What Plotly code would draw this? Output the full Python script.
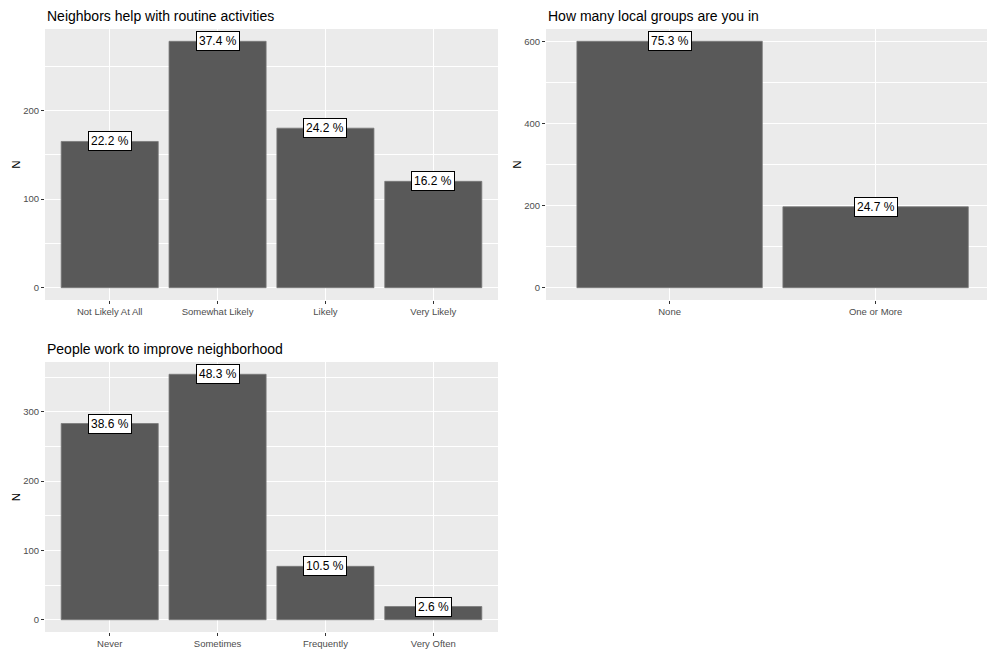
import plotly.graph_objects as go

W, H = 987, 649

# ---- data ----
cats1 = ["Not Likely At All", "Somewhat Likely", "Likely", "Very Likely"]
vals1 = [165, 278, 180, 120]
pct1 = ["22.2", "37.4", "24.2", "16.2"]
title1 = "Neighbors help with routine activities"

cats2 = ["None", "One or More"]
vals2 = [600, 197]
pct2 = ["75.3", "24.7"]
title2 = "How many local groups are you in"

cats3 = ["Never", "Sometimes", "Frequently", "Very Often"]
vals3 = [283, 354, 77, 19]
pct3 = ["38.6", "48.3", "10.5", "2.6"]
title3 = "People work to improve neighborhood"

FONT = "Liberation Sans, Arial, sans-serif"
BAR = "#595959"
BG = "#EBEBEB"

def px_x(a, b):
    return [a / W, b / W]

def px_y(top, bottom):
    return [1 - bottom / H, 1 - top / H]

panels = [
    dict(cats=cats1, vals=vals1, pct=pct1, title=title1, xd=px_x(45, 498), yd=px_y(29, 300),
         xr=[-0.6, 3.6], yr=[-13.9, 291.9], dt=100, mdt=50),
    dict(cats=cats2, vals=vals2, pct=pct2, title=title2, xd=px_x(546, 987), yd=px_y(29, 300),
         xr=[-0.6, -0.6 + 441 / 206], yr=[-30, 630], dt=200, mdt=100),
    dict(cats=cats3, vals=vals3, pct=pct3, title=title3, xd=px_x(45, 498), yd=px_y(362, 632),
         xr=[-0.6, 3.6], yr=[-17.7, 371.7], dt=100, mdt=50),
]

fig = go.Figure()
annotations = []
layout = {}
for i, p in enumerate(panels, start=1):
    xa = "x" if i == 1 else f"x{i}"
    ya = "y" if i == 1 else f"y{i}"
    fig.add_trace(go.Bar(
        x=p["cats"], y=p["vals"], xaxis=xa, yaxis=ya, width=0.9,
        marker=dict(color=BAR, line=dict(color="#7a7a7a", width=0.8)),
        showlegend=False, hoverinfo="skip",
    ))
    layout[f"xaxis{'' if i == 1 else i}"] = dict(
        domain=p["xd"], anchor=ya, type="category", range=p["xr"],
        showgrid=True, gridcolor="white", gridwidth=1.1,
        ticks="outside", ticklen=3, tickcolor="#333333", tickwidth=1,
        tickfont=dict(family=FONT, size=9.5, color="#4D4D4D"),
        showline=False, zeroline=False, fixedrange=True,
    )
    layout[f"yaxis{'' if i == 1 else i}"] = dict(
        domain=p["yd"], anchor=xa, range=p["yr"], dtick=p["dt"], tick0=0,
        showgrid=True, gridcolor="white", gridwidth=1.1,
        minor=dict(dtick=p["mdt"], tick0=0, showgrid=True, gridcolor="white", gridwidth=0.5),
        ticks="outside", ticklen=3, tickcolor="#333333", tickwidth=1,
        tickfont=dict(family=FONT, size=9.5, color="#4D4D4D"),
        title=dict(text="N", font=dict(family=FONT, size=11.5, color="black"), standoff=0),
        showline=False, zeroline=False, fixedrange=True,
    )
    for c, v, t in zip(p["cats"], p["vals"], p["pct"]):
        annotations.append(dict(
            x=c, y=v, xref=xa, yref=ya, text=f"{t} %", showarrow=False,
            xanchor="center", yanchor="middle",
            font=dict(family=FONT, size=12, color="black"),
            bgcolor="white", bordercolor="black", borderwidth=1, borderpad=2,
        ))
    annotations.append(dict(
        x=p["xd"][0], y=p["yd"][1] + 3 / H, xref="paper", yref="paper",
        text=p["title"], showarrow=False, xanchor="left", yanchor="bottom",
        font=dict(family=FONT, size=14, color="black"),
    ))

fig.update_layout(
    **layout,
    width=W, height=H,
    margin=dict(l=0, r=0, t=0, b=0),
    paper_bgcolor="white", plot_bgcolor=BG,
    annotations=annotations,
    bargap=0.1,
)

fig.write_html(
    "out.html",
    config={"displayModeBar": False},
    post_script="document.body.style.margin='0';document.body.style.overflow='hidden';",
)
